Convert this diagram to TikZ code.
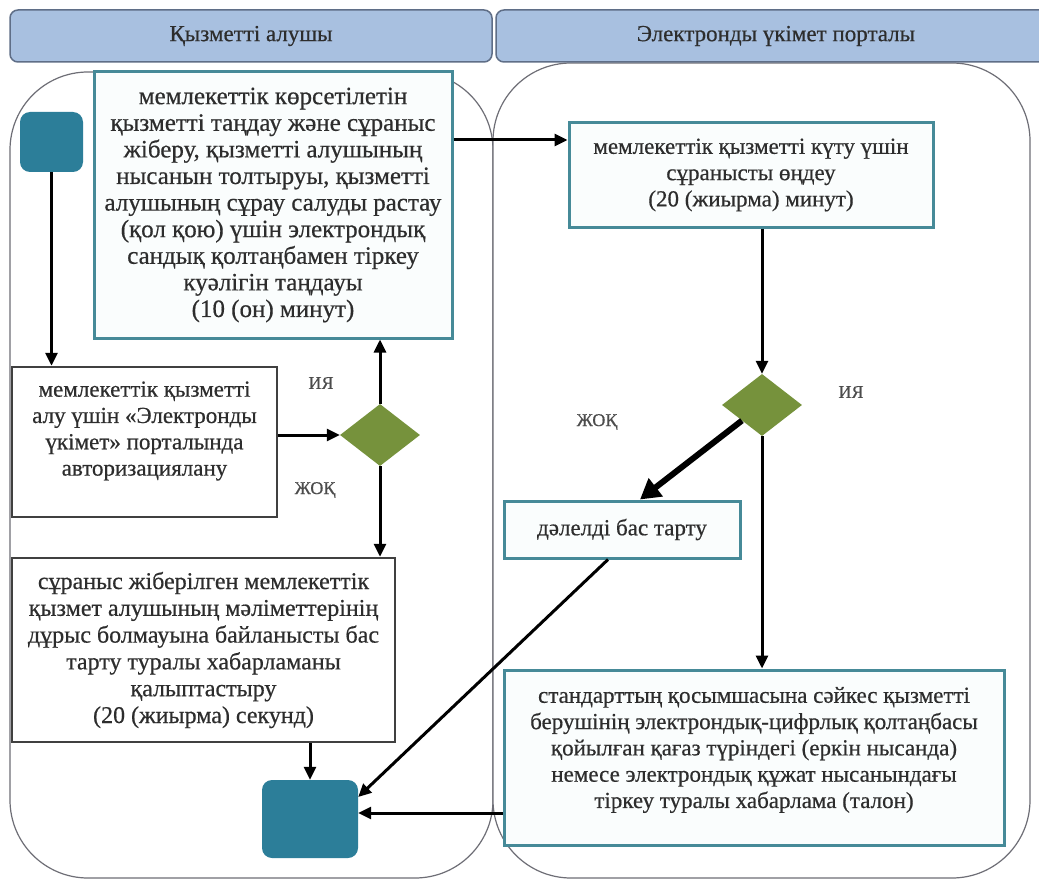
\documentclass[tikz,border=0pt]{standalone}
\usepackage{fontspec}
\setmainfont{Liberation Serif}[FakeBold=0.5]
\usetikzlibrary{arrows.meta,shapes.geometric}
\definecolor{hdrfill}{RGB}{168,192,224}
\definecolor{hdrdraw}{RGB}{95,110,135}
\definecolor{lanedraw}{RGB}{110,110,118}
\definecolor{termfill}{RGB}{44,126,153}
\definecolor{tealdraw}{RGB}{70,138,152}
\definecolor{boxfill}{RGB}{250,253,253}
\definecolor{decfill}{RGB}{118,146,60}
\definecolor{txt}{RGB}{45,45,45}
\begin{document}
\begin{tikzpicture}[x=1pt,y=-1pt,
 every node/.style={font=\fontsize{23}{26.3}\selectfont, text=txt},
 bigtxt/.style={font=\fontsize{25}{26.6}\selectfont},
 midtxt/.style={font=\fontsize{24}{26.8}\selectfont},
 lane/.style={draw=lanedraw, line width=1.2pt, fill=white, rounded corners=78pt},
 hdr/.style={draw=hdrdraw, line width=1.5pt, fill=hdrfill, rounded corners=8pt, inner sep=0pt, font=\fontsize{23}{26}\selectfont},
 tealbox/.style={draw=tealdraw, line width=3pt, fill=boxfill, align=center, inner sep=0pt},
 graybox/.style={draw=black!75, line width=2.5pt, fill=white, align=center, inner sep=0pt},
 term/.style={fill=termfill, rounded corners=10pt, inner sep=0pt},
 dec/.style={diamond, fill=decfill, inner sep=0pt, shape aspect=1.3, minimum width=80pt, minimum height=62pt},
 arr/.style={line width=3pt, -{Triangle[length=13pt,width=12pt]}},
 bigarr/.style={line width=6pt, -{Triangle[length=20pt,width=22pt]}},
 lbl/.style={font=\fontsize{18}{20}\selectfont, text=black!70},
]
\useasboundingbox (0,0) rectangle (1039,880);
\fill[white] (0,0) rectangle (1039,880);
% lanes
\draw[lane] (10,72) rectangle (493,878);
\draw[lane] (493,63) rectangle (1030,878);
% headers
\node[hdr, minimum width=482pt, minimum height=52pt] (h1) at (251,36) {Қызметті алушы};
\node[hdr, minimum width=560pt, minimum height=52pt] (h2) at (776,36) {Электронды үкімет порталы};
% nodes
\node[term, minimum width=63pt, minimum height=60pt] (start) at (51.5,142) {};
\node[tealbox, bigtxt, minimum width=358pt, minimum height=266pt] (box1) at (273,205)
 {мемлекеттік көрсетілетін\\ қызметті таңдау және сұраныс\\ жіберу, қызметті алушының\\ нысанын толтыруы, қызметті\\ алушының сұрау салуды растау\\ (қол қою) үшін электрондық\\ сандық қолтаңбамен тіркеу\\ куәлігін таңдауы\\ (10 (он) минут)};
\node[tealbox, minimum width=364pt, minimum height=104pt] (box2) at (751,175)
 {мемлекеттік қызметті күту үшін\\ сұранысты өңдеу\\ (20 (жиырма) минут)};
\node[graybox, minimum width=265pt, minimum height=150pt] (auth) at (144.5,442) {};
\node[align=center, inner sep=0pt] (authtxt) at (144.5,431)
 {мемлекеттік қызметті\\ алу үшін «Электронды\\ үкімет» порталында\\ авторизациялану};
\node[dec] (dl) at (380,435) {};
\node[graybox, midtxt, minimum width=383pt, minimum height=184pt] (rej) at (203.5,650)
 {сұраныс жіберілген мемлекеттік\\ қызмет алушының мәліметтерінің\\ дұрыс болмауына байланысты бас\\ тарту туралы хабарламаны\\ қалыптастыру\\ (20 (жиырма) секунд)};
\node[dec] (dr) at (762,405) {};
\node[tealbox, minimum width=236pt, minimum height=57pt] (dtart) at (622,529.5) {дәлелді бас тарту};
\node[tealbox, minimum width=500pt, minimum height=175pt] (fin) at (754,757.5) {};
\node[align=center, inner sep=0pt] (fintxt) at (754,750)
 {стандарттың қосымшасына сәйкес қызметті\\ берушінің электрондық-цифрлық қолтаңбасы\\ қойылған қағаз түріндегі (еркін нысанда)\\ немесе электрондық құжат нысанындағы\\ тіркеу туралы хабарлама (талон)};
\node[term, minimum width=96pt, minimum height=78pt] (end) at (310,819) {};
% labels
\node[lbl] (l1) at (321,383) {ИЯ};
\node[lbl] (l2) at (315,490) {ЖОҚ};
\node[lbl] (l3) at (851,392) {ИЯ};
\node[lbl] (l4) at (597,422) {ЖОҚ};
% connectors
\draw[arr] (start.south) -- (start.south |- auth.north);
\draw[arr] (auth.east |- dl.west) -- (dl.west);
\draw[arr] (dl.north) -- (dl.north |- box1.south);
\draw[arr] (dl.south) -- (dl.south |- rej.north);
\draw[arr] ([yshift=35pt]box2.west -| box1.east) -- ([yshift=35pt]box2.west);
\draw[arr] (dr.north |- box2.south) -- (dr.north);
\draw[bigarr] (dr.south west) -- ([xshift=18pt]dtart.north);
\draw[arr] (dr.south) -- (dr.south |- fin.north);
\draw[arr] ([xshift=-14pt]dtart.south) -- ([yshift=22pt]end.east);
\draw[arr] ([yshift=6pt]end.east -| fin.west) -- ([yshift=6pt]end.east);
\draw[arr] (end.north |- rej.south) -- (end.north);
\end{tikzpicture}
\end{document}
